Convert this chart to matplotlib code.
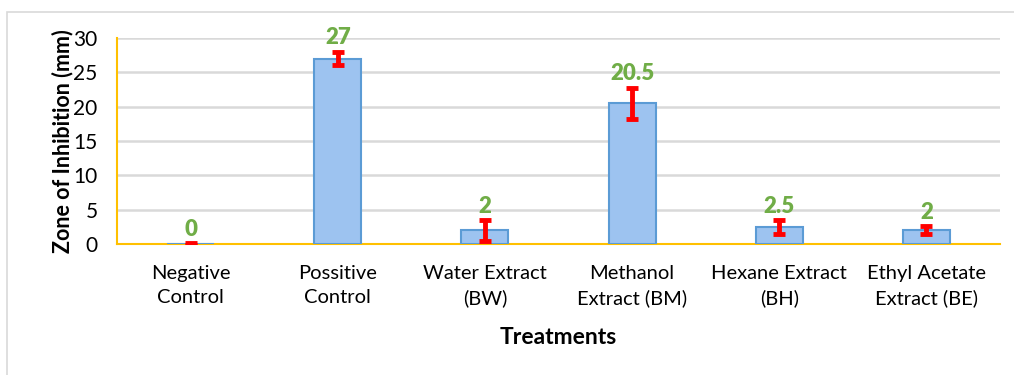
import numpy as np
import matplotlib
matplotlib.use('Agg')
import matplotlib.pyplot as plt
from matplotlib.patches import Rectangle

# Dados
categorias = ['Negative\nControl', 'Possitive\nControl', 'Water Extract\n(BW)',
              'Methanol\nExtract (BM)', 'Hexane Extract\n(BH)', 'Ethyl Acetate\nExtract (BE)']
valores = [0, 27, 2, 20.5, 2.5, 2]
erros = [0.15, 1.0, 1.5, 2.25, 1.0, 0.6]
rotulos = ['0', '27', '2', '20.5', '2.5', '2']

plt.rcParams['font.family'] = ['Lato', 'DejaVu Sans']

fig = plt.figure(figsize=(10.14, 3.75), dpi=100)
ax = fig.add_axes([117/1014, 1 - 244/375, 883/1014, 206/375])

# Moldura cinza do gráfico
fig.patches.append(Rectangle((7/1014, -0.1), 1.1, 1 - 12/375 + 0.1, transform=fig.transFigure,
                             fill=False, edgecolor='#d9d9d9', linewidth=1.2))

x = np.arange(len(categorias))
ax.bar(x, valores, width=0.32, color='#9DC3F0', edgecolor='#5B9BD5', linewidth=1.5, zorder=3)
ax.errorbar(x, valores, yerr=erros, fmt='none', ecolor='#FF0000', elinewidth=3.5,
            capsize=4, capthick=3.5, zorder=4)

for xi, v, e, r in zip(x, valores, erros, rotulos):
    ax.text(xi, v + e + 0.5, r, ha='center', va='bottom', color='#70AD47',
            fontsize=16, fontweight='heavy', zorder=5)

ax.set_xlim(-0.5, 5.5)
ax.set_ylim(0, 30)
ax.set_yticks(range(0, 31, 5))
ax.grid(axis='y', color='#d9d9d9', linewidth=1.8, zorder=0)
ax.set_axisbelow(True)

for s in ['top', 'right']:
    ax.spines[s].set_visible(False)
ax.spines['left'].set_color('#FFC000')
ax.spines['bottom'].set_color('#FFC000')
ax.spines['left'].set_linewidth(1.5)
ax.spines['bottom'].set_linewidth(1.5)

ax.set_xticks(x)
ax.set_xticklabels(categorias, fontsize=14.5, linespacing=1.5)
ax.tick_params(axis='both', length=0, colors='black')
ax.tick_params(axis='y', labelsize=15, pad=14)
ax.tick_params(axis='x', pad=15)

ax.set_xlabel('Treatments', fontsize=16.5, fontweight='bold', labelpad=14)
ax.set_ylabel('Zone of Inhibition (mm)', fontsize=15.5, fontweight='bold', labelpad=0)

fig.savefig('out.png', dpi=100)
